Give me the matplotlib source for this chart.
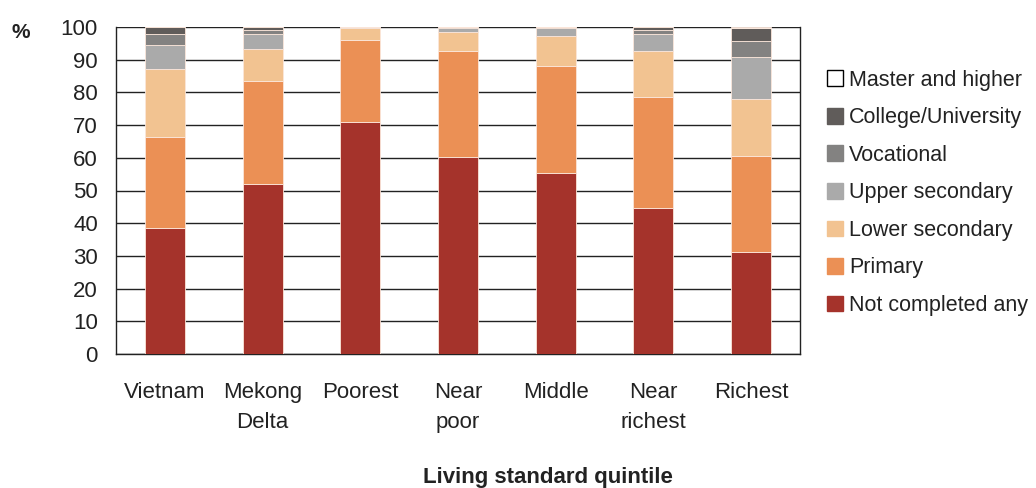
import numpy as np
import matplotlib.pyplot as plt
from matplotlib.patches import Patch

plt.rcParams['font.family'] = ['Liberation Sans', 'DejaVu Sans']

# Data (percent of population by education level)
groups = ["Vietnam", "Mekong\nDelta", "Poorest", "Near\npoor", "Middle", "Near\nrichest", "Richest"]
levels = ["Not completed any", "Primary", "Lower secondary", "Upper secondary",
          "Vocational", "College/University", "Master and higher"]
not_completed = [38.5, 52.0, 71.0, 60.2, 55.4, 44.6, 31.2]
primary = [27.9, 31.5, 25.0, 32.5, 32.6, 33.9, 29.3]
lower_secondary = [20.8, 9.9, 3.6, 5.7, 9.2, 14.3, 17.4]
upper_secondary = [7.3, 4.5, 0.3, 1.4, 2.4, 5.1, 12.9]
vocational = [3.4, 1.1, 0.1, 0.2, 0.3, 1.2, 4.8]
college = [2.0, 1.0, 0.0, 0.0, 0.1, 0.8, 4.2]
master = [0.1, 0.0, 0.0, 0.0, 0.0, 0.0, 0.2]

colors = ["#A5332B", "#EB9055", "#F2C391", "#AAAAAA", "#838281", "#605C5A", "#FFFFFF"]
series = [not_completed, primary, lower_secondary, upper_secondary, vocational, college, master]

fig = plt.figure(figsize=(10.36, 4.88), dpi=100)
ax = fig.add_axes([116 / 1036, 1 - 354 / 488, 684 / 1036, 327 / 488])

x = np.arange(len(groups))
bottom = np.zeros(len(groups))
for vals, c in zip(series, colors):
    ax.bar(x, vals, 0.41, bottom=bottom, color=c, edgecolor='#FBE6DA', linewidth=0.6, zorder=3)
    bottom += np.array(vals)

ax.set_xlim(-0.5, 6.5)
ax.set_ylim(0, 100)
ax.set_yticks(np.arange(0, 101, 10))
ax.yaxis.grid(True, color='#222222', linewidth=1.0, zorder=0)
ax.set_axisbelow(True)
for s in ['left', 'bottom', 'right']:
    ax.spines[s].set_color('#222222')
    ax.spines[s].set_linewidth(1.0)
ax.spines['top'].set_visible(False)
ax.tick_params(axis='y', length=0, pad=13, labelsize=16, colors='#222222')
ax.tick_params(axis='x', length=0, pad=20, labelsize=16, colors='#222222')
ax.set_xticks(x)
ax.set_xticklabels(groups, linespacing=1.55, va='top')

fig.text(12 / 1036, 1 - 33 / 488, "%", fontsize=15, fontweight='bold', ha='left', va='center',
         color='#222222')
fig.text(548 / 1036, 1 - 477 / 488, "Living standard quintile", fontsize=16, fontweight='bold',
         ha='center', va='center', color='#222222')

handles = [Patch(facecolor=c, edgecolor=('black' if c == "#FFFFFF" else c), linewidth=1)
           for c in colors]
leg = fig.legend(handles[::-1], levels[::-1], loc='upper left',
                 bbox_to_anchor=(818 / 1036, 1 - 61 / 488), frameon=False, fontsize=15.5,
                 handlelength=0.75, handleheight=0.75, handletextpad=0.3,
                 labelspacing=0.77, borderaxespad=0)
for t in leg.get_texts():
    t.set_color('#222222')

fig.savefig("out.png", dpi=100)
